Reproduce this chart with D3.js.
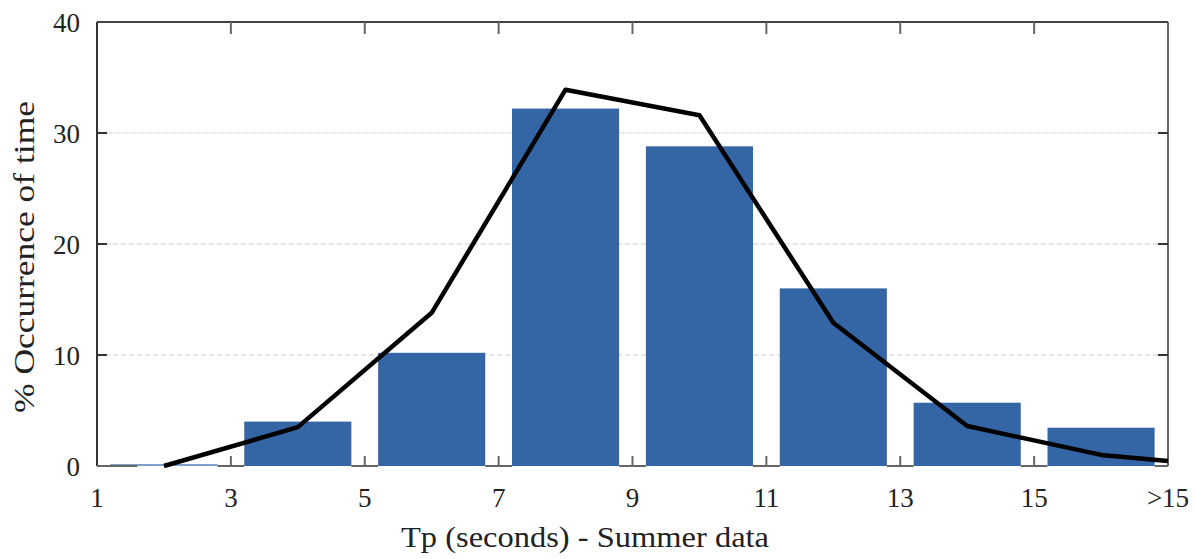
<!DOCTYPE html>
<html>
<head>
<meta charset="utf-8">
<script src="https://cdn.jsdelivr.net/npm/d3@7"></script>
<style>
  body { margin: 0; background: #fff; }
  text { font-family: "Liberation Serif", "Times New Roman", serif; fill: #222; }
</style>
</head>
<body>
<div id="chart"></div>
<script>
// data
var binCentres = [2, 4, 6, 8, 10, 12, 14, 16]
var barValues = [0.05, 4.0, 10.2, 32.2, 28.8, 16.0, 5.7, 3.45]
var lineX = [2, 4, 6, 8, 10, 12, 14, 16, 17]
var lineValues = [0, 3.5, 13.8, 33.9, 31.6, 12.9, 3.6, 1.0, 0.45]
var xTicks = [1, 3, 5, 7, 9, 11, 13, 15, 17]
var xTickLabels = ["1", "3", "5", "7", "9", "11", "13", "15", ">15"]
var yTicks = [0, 10, 20, 30, 40]

var width = 1195
var height = 559
var margin = {left: 97, right: 27, top: 22, bottom: 93}

var svg = d3.select("#chart")
  .append("svg")
    .attr("width", width)
    .attr("height", height)

var x = d3.scaleLinear()
  .domain([1, 17])
  .range([margin.left, width - margin.right])

var y = d3.scaleLinear()
  .domain([0, 40])
  .range([height - margin.bottom, margin.top])

var barW = x(2.6) - x(1)

// grid lines
svg.append("g")
  .selectAll("line")
  .data(yTicks.filter(function(d){ return d > 0 && d < 40 }))
  .enter()
  .append("line")
    .attr("x1", x(1))
    .attr("x2", x(17))
    .attr("y1", function(d){ return y(d) })
    .attr("y2", function(d){ return y(d) })
    .attr("stroke", function(d){ return d == 30 ? "#bbb" : "#ccc" })
    .attr("stroke-width", 1)
    .attr("stroke-dasharray", function(d){ return d == 30 ? "1,1" : "5,3" })

// bars
svg.append("g")
  .selectAll("rect")
  .data(barValues)
  .enter()
  .append("rect")
    .attr("x", function(d, i){ return x(binCentres[i]) - barW / 2 })
    .attr("width", barW)
    .attr("y", function(d){ return Math.min(y(d), y(0) - 2) })
    .attr("height", function(d){ return Math.max(2, y(0) - y(d)) })
    .attr("fill", function(d){ return d < 0.5 ? "#7fa0c8" : "#3465a4" })

// frame
var frame = svg.append("g").attr("stroke", "#666").attr("stroke-width", 2).attr("fill", "none")
frame.append("line")
  .attr("x1", x(1)).attr("x2", x(1))
  .attr("y1", y(40)).attr("y2", y(0))
  .attr("stroke", "#333")
frame.append("line")
  .attr("x1", x(17)).attr("x2", x(17))
  .attr("y1", y(40)).attr("y2", y(0))
frame.append("line")
  .attr("x1", x(1)).attr("x2", x(17))
  .attr("y1", y(40)).attr("y2", y(40))
  .attr("stroke", "#444")
frame.append("line")
  .attr("x1", x(1)).attr("x2", x(1.6))
  .attr("y1", y(0)).attr("y2", y(0))
frame.selectAll(".gap")
  .data(binCentres)
  .enter()
  .append("line")
    .attr("x1", function(d){ return x(d) + barW / 2 })
    .attr("x2", function(d){ return Math.min(x(d + 2) - barW / 2, x(17)) })
    .attr("y1", y(0))
    .attr("y2", y(0))

// inward ticks
frame.selectAll(".tb")
  .data(xTicks.slice(1, -1))
  .enter()
  .append("line")
    .attr("x1", function(d){ return x(d) })
    .attr("x2", function(d){ return x(d) })
    .attr("y1", y(0))
    .attr("y2", y(0) - 10)
frame.selectAll(".tt")
  .data(xTicks.slice(1, -1))
  .enter()
  .append("line")
    .attr("x1", function(d){ return x(d) })
    .attr("x2", function(d){ return x(d) })
    .attr("y1", y(40))
    .attr("y2", y(40) + 12)
frame.selectAll(".tl")
  .data(yTicks.slice(1, -1))
  .enter()
  .append("line")
    .attr("x1", x(1))
    .attr("x2", x(1) + 10)
    .attr("y1", function(d){ return y(d) })
    .attr("y2", function(d){ return y(d) })
    .attr("stroke", "#333")
frame.selectAll(".tr")
  .data(yTicks.slice(1, -1))
  .enter()
  .append("line")
    .attr("x1", x(17))
    .attr("x2", x(17) - 10)
    .attr("y1", function(d){ return y(d) })
    .attr("y2", function(d){ return y(d) })
    .attr("stroke", "#333")

// line
var line = d3.line()
  .x(function(d, i){ return x(lineX[i]) })
  .y(function(d){ return y(d) })

svg.append("path")
  .datum(lineValues)
  .attr("d", line)
  .attr("fill", "none")
  .attr("stroke", "#000")
  .attr("stroke-width", 4.5)
  .attr("stroke-linejoin", "round")

// tick labels
svg.append("g")
  .selectAll("text")
  .data(yTicks)
  .enter()
  .append("text")
    .attr("x", x(1) - 17)
    .attr("y", function(d){ return y(d) + 10 })
    .attr("text-anchor", "end")
    .style("font-size", "27px")
    .text(function(d){ return d })

svg.append("g")
  .selectAll("text")
  .data(xTicks)
  .enter()
  .append("text")
    .attr("x", function(d){ return x(d) })
    .attr("y", y(0) + 41)
    .attr("text-anchor", "middle")
    .style("font-size", "27px")
    .text(function(d, i){ return xTickLabels[i] })

// axis titles
svg.append("text")
  .attr("x", 585)
  .attr("y", 547)
  .attr("text-anchor", "middle")
  .attr("textLength", 368)
  .attr("lengthAdjust", "spacingAndGlyphs")
  .style("font-size", "29px")
  .text("Tp (seconds) - Summer data")

svg.append("text")
  .attr("transform", "translate(34,257) rotate(-90)")
  .attr("text-anchor", "middle")
  .attr("textLength", 312)
  .attr("lengthAdjust", "spacingAndGlyphs")
  .style("font-size", "29px")
  .text("% Occurrence of time")
</script>
</body>
</html>
